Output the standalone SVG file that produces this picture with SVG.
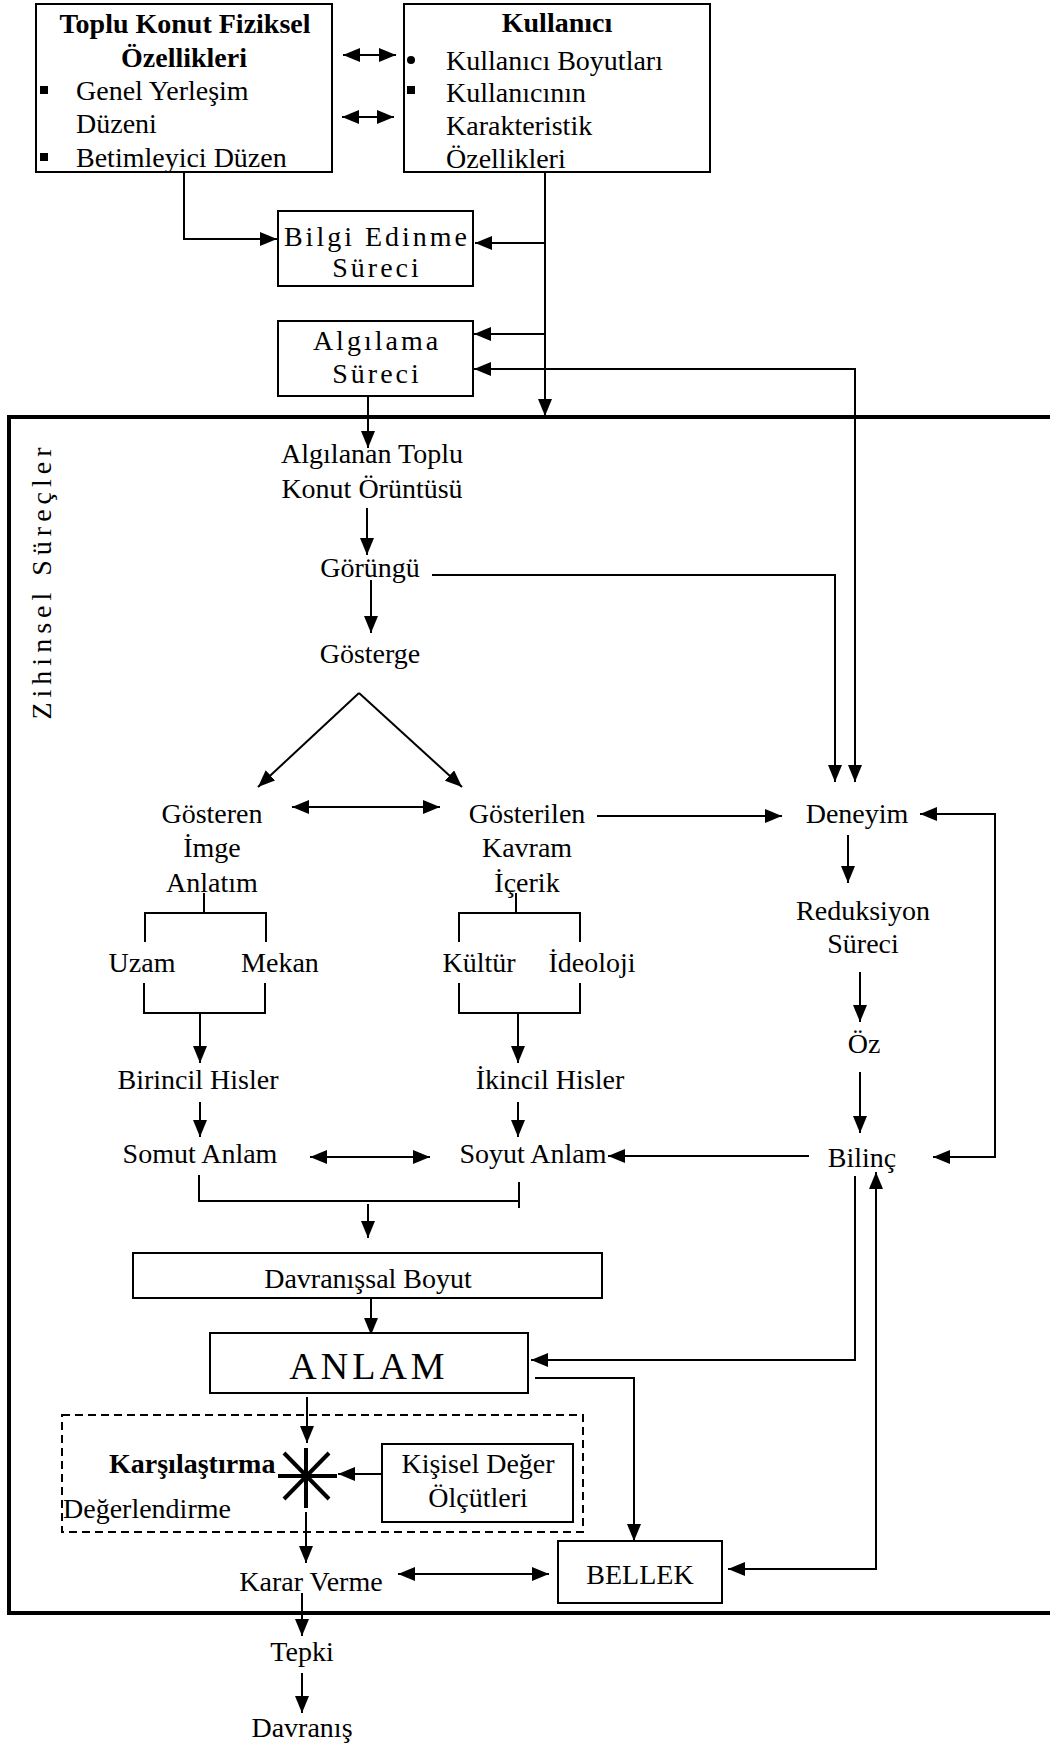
<svg xmlns="http://www.w3.org/2000/svg" width="1050" height="1746" viewBox="0 0 1050 1746">
<style>
text{font-family:"Liberation Serif","Times New Roman",serif;font-size:28px;fill:#000}
.c{text-anchor:middle}
.b{font-weight:bold}
.sp{letter-spacing:3px}
.box{fill:#fff;stroke:#000;stroke-width:2}
.ln{fill:none;stroke:#000;stroke-width:2}
.ae{marker-end:url(#ah)}
.ab{marker-start:url(#ah);marker-end:url(#ah)}
</style>
<defs>
<marker id="ah" markerUnits="userSpaceOnUse" markerWidth="18" markerHeight="14" refX="17" refY="7" orient="auto-start-reverse">
<path d="M0,0 L17,7 L0,14 z" fill="#000"/>
</marker>
</defs>
<rect width="1050" height="1746" fill="#fff"/>

<g id="mental-frame">
<rect x="9" y="417" width="1060" height="1196" fill="none" stroke="#000" stroke-width="4"/>
<text class="c" x="51" y="581" transform="rotate(-90 51 581)" style="letter-spacing:5px">Zihinsel   Süreçler</text>
</g>

<g id="connectors">
<path class="ln ab" d="M343,55 H396"/>
<path class="ln ab" d="M342,117 H394"/>
<path class="ln ae" d="M184,172 V239 H277"/>
<path class="ln ae" d="M545,172 V416"/>
<path class="ln ae" d="M545,243 H475"/>
<path class="ln ae" d="M545,334 H474"/>
<path class="ln ab" d="M474,369 H855 V782"/>
<path class="ln ae" d="M368,396 V448"/>
<path class="ln ae" d="M367,508 V555"/>
<path class="ln ae" d="M432,575 H835 V782"/>
<path class="ln ae" d="M371,580 V633"/>
<path class="ln ae" d="M359,693 L258,787"/>
<path class="ln ae" d="M359,693 L462,787"/>
<path class="ln ab" d="M292,807 H440"/>
<path class="ln ae" d="M597,816 H782"/>
<path class="ln ab" d="M920,814 H995 V1157 H933"/>
<path class="ln ae" d="M848,835 V883"/>
<path class="ln ae" d="M860,972 V1022"/>
<path class="ln ae" d="M860,1072 V1133"/>
<path class="ln ae" d="M809,1156 H608"/>
<path class="ln" d="M204,893 V913 M145,942 V913 H266 V942"/>
<path class="ln" d="M144,983 V1013 H265 V983"/>
<path class="ln ae" d="M200,1013 V1063"/>
<path class="ln" d="M516,893 V913 M459,942 V913 H580 V942"/>
<path class="ln" d="M459,983 V1013 H580 V983"/>
<path class="ln ae" d="M518,1013 V1063"/>
<path class="ln ae" d="M200,1102 V1137"/>
<path class="ln ae" d="M518,1102 V1137"/>
<path class="ln ab" d="M310,1157 H430"/>
<path class="ln" d="M199,1175 V1201 H519 M519,1182 V1208"/>
<path class="ln ae" d="M368,1204 V1238"/>
<path class="ln ae" d="M371,1298 V1335"/>
<path class="ln ae" d="M855,1176 V1360 H531"/>
<path class="ln ae" d="M535,1378 H634 V1541"/>
<path class="ln ae" d="M307,1397 V1443"/>
<path class="ln ae" d="M382,1474 H338"/>
<path class="ln ae" d="M306,1512 V1563"/>
<path class="ln ab" d="M398,1574 H549"/>
<path class="ln ab" d="M728,1569 H876 V1172"/>
<path class="ln ae" d="M302,1593 V1636"/>
<path class="ln ae" d="M302,1673 V1713"/>
</g>

<g id="node-fiziksel">
<rect class="box" x="36" y="4" width="296" height="168"/>
<text class="c b" x="185" y="33">Toplu Konut Fiziksel</text>
<text class="c b" x="184" y="67">Özellikleri</text>
<rect x="40" y="86" width="8" height="8" fill="#000"/>
<text x="76" y="100">Genel Yerleşim</text>
<text x="76" y="133">Düzeni</text>
<rect x="40" y="153" width="8" height="8" fill="#000"/>
<text x="76" y="167">Betimleyici Düzen</text>
</g>

<g id="node-kullanici">
<rect class="box" x="404" y="4" width="306" height="168"/>
<text class="c b" x="557" y="32">Kullanıcı</text>
<circle cx="411" cy="60" r="4" fill="#000"/>
<text x="446" y="70">Kullanıcı Boyutları</text>
<rect x="407" y="86" width="8" height="8" fill="#000"/>
<text x="446" y="102">Kullanıcının</text>
<text x="446" y="135">Karakteristik</text>
<text x="446" y="168">Özellikleri</text>
</g>

<g id="node-bilgi">
<rect class="box" x="278" y="211" width="195" height="75"/>
<text class="c sp" x="377" y="246">Bilgi Edinme</text>
<text class="c sp" x="377" y="277">Süreci</text>
</g>

<g id="node-algilama">
<rect class="box" x="278" y="321" width="195" height="75"/>
<text class="c sp" x="377" y="350">Algılama</text>
<text class="c sp" x="377" y="383">Süreci</text>
</g>

<g id="node-algilanan"><text class="c" x="372" y="463">Algılanan Toplu</text><text class="c" x="372" y="498">Konut Örüntüsü</text></g>
<g id="node-gorungu"><text class="c" x="370" y="577">Görüngü</text></g>
<g id="node-gosterge"><text class="c" x="370" y="663">Gösterge</text></g>
<g id="node-gosteren"><text class="c" x="212" y="823">Gösteren</text><text class="c" x="212" y="857">İmge</text><text class="c" x="212" y="892">Anlatım</text></g>
<g id="node-gosterilen"><text class="c" x="527" y="823">Gösterilen</text><text class="c" x="527" y="857">Kavram</text><text class="c" x="527" y="892">İçerik</text></g>
<g id="node-deneyim"><text class="c" x="857" y="823">Deneyim</text></g>
<g id="node-uzam"><text class="c" x="142" y="972">Uzam</text></g>
<g id="node-mekan"><text class="c" x="280" y="972">Mekan</text></g>
<g id="node-kultur"><text class="c" x="479" y="972">Kültür</text></g>
<g id="node-ideoloji"><text class="c" x="592" y="972">İdeoloji</text></g>
<g id="node-reduksiyon"><text class="c" x="863" y="920">Reduksiyon</text><text class="c" x="863" y="953">Süreci</text></g>
<g id="node-oz"><text class="c" x="864" y="1053">Öz</text></g>
<g id="node-birincil"><text class="c" x="198" y="1089">Birincil Hisler</text></g>
<g id="node-ikincil"><text class="c" x="550" y="1089">İkincil Hisler</text></g>
<g id="node-somut"><text class="c" x="200" y="1163">Somut Anlam</text></g>
<g id="node-soyut"><text class="c" x="533" y="1163">Soyut Anlam</text></g>
<g id="node-bilinc"><text class="c" x="862" y="1167">Bilinç</text></g>

<g id="node-davranissal">
<rect class="box" x="133" y="1253" width="469" height="45"/>
<text class="c" x="368" y="1288">Davranışsal Boyut</text>
</g>

<g id="node-anlam">
<rect class="box" x="210" y="1333" width="318" height="60"/>
<text class="c" x="369" y="1379" style="font-size:38px;letter-spacing:4px">ANLAM</text>
</g>

<g id="node-degerlendirme">
<rect x="62" y="1415" width="521" height="117" fill="none" stroke="#000" stroke-width="2" stroke-dasharray="8,5"/>
<text class="b" x="109" y="1473">Karşılaştırma</text>
<text x="63" y="1518">Değerlendirme</text>
<g stroke="#000" stroke-width="4">
<line x1="306" y1="1448" x2="306" y2="1508"/>
<line x1="278" y1="1476" x2="337" y2="1476"/>
<line x1="284" y1="1453" x2="329" y2="1499"/>
<line x1="329" y1="1453" x2="284" y2="1499"/>
</g>
</g>

<g id="node-kisisel">
<rect class="box" x="382" y="1444" width="191" height="78"/>
<text class="c" x="478" y="1473">Kişisel Değer</text>
<text class="c" x="478" y="1507">Ölçütleri</text>
</g>

<g id="node-karar"><text class="c" x="311" y="1591">Karar Verme</text></g>

<g id="node-bellek">
<rect class="box" x="558" y="1541" width="164" height="62"/>
<text class="c" x="640" y="1584">BELLEK</text>
</g>

<g id="node-tepki"><text class="c" x="302" y="1661">Tepki</text></g>
<g id="node-davranis"><text class="c" x="302" y="1737">Davranış</text></g>
</svg>
